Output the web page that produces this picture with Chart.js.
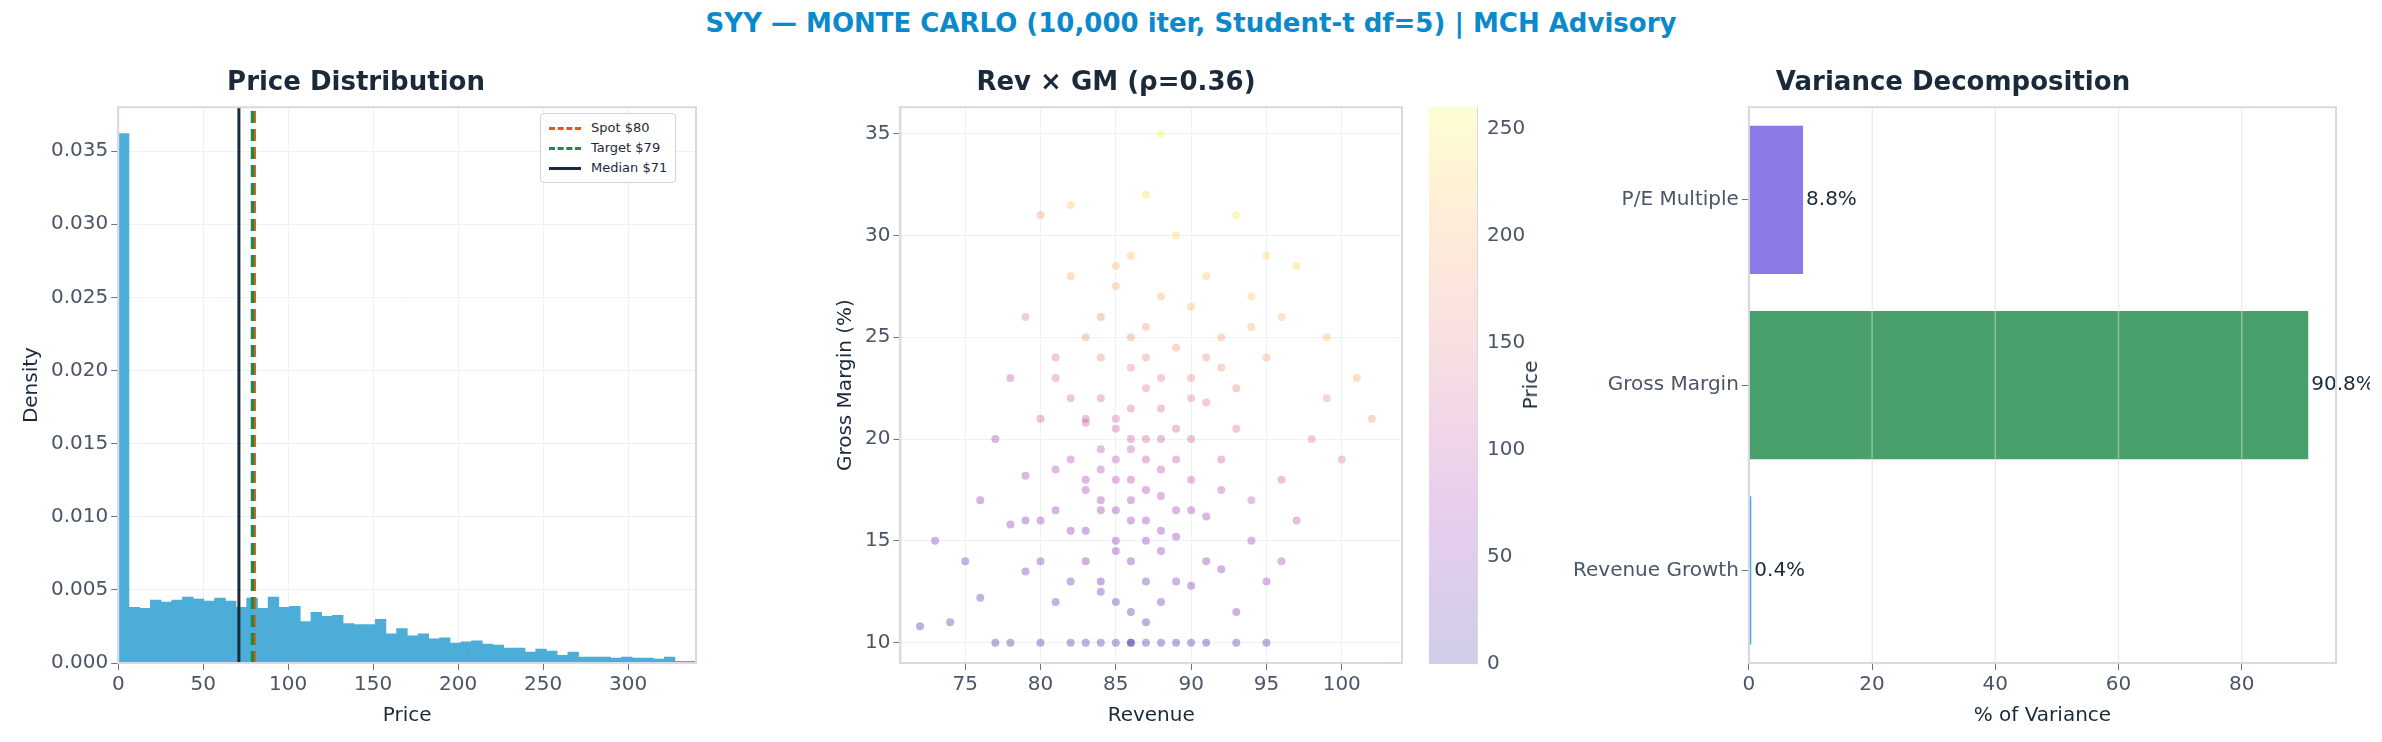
<!DOCTYPE html>
<html><head><meta charset="utf-8">
<script src="https://cdn.jsdelivr.net/npm/chart.js@4.4.1/dist/chart.umd.min.js"></script>
<style>
body{margin:0;background:#fff;width:2382px;height:742px;position:relative;overflow:hidden;font-family:"DejaVu Sans",sans-serif}
.box{position:absolute}
#title{position:absolute;top:8px;left:0;width:2382px;text-align:center;font:bold 26px "DejaVu Sans";color:#0a8acb}
#leg{position:absolute;left:540px;top:113px;border:1px solid #d0d4da;border-radius:4px;background:#fff;padding:4px 8px;font:13px "DejaVu Sans";color:#1b2a3a;line-height:20px}
#leg span{display:inline-block;width:32px;height:0;margin-right:10px;vertical-align:middle}
#cbt{position:absolute;left:1530px;top:385px;transform:translate(-50%,-50%) rotate(-90deg);font:20px "DejaVu Sans";color:#1b2a3a}
</style></head><body>
<div id="title">SYY — MONTE CARLO (10,000 iter, Student-t df=5) | MCH Advisory</div>
<div class="box" style="left:0;top:58px;width:710px;height:674px"><canvas id="c1"></canvas></div>
<div class="box" style="left:830px;top:58px;width:580px;height:674px"><canvas id="c2"></canvas></div>
<div class="box" style="left:1530px;top:58px;width:840px;height:674px"><canvas id="c4"></canvas></div>
<div class="box" style="left:1400px;top:58px;width:125px;height:674px"><canvas id="c3"></canvas></div>
<div id="cbt">Price</div>
<div id="leg"><div><span style="border-top:3px dashed #e8590c"></span>Spot $80</div><div><span style="border-top:3px dashed #1e8a4a"></span>Target $79</div><div><span style="border-top:3px solid #1b2a3a"></span>Median $71</div></div>
<script>
const binWidth = 6.3;
const histDensity = [0.0362,0.00381,0.00374,0.0043,0.00416,0.0043,0.00451,0.00437,0.00423,0.00444,0.00423,0.00381,0.00444,0.00374,0.00451,0.00381,0.00388,0.00284,0.00347,0.00319,0.00326,0.0027,0.00263,0.00263,0.00298,0.002,0.00235,0.00186,0.002,0.00165,0.00172,0.00137,0.00144,0.00151,0.0013,0.00123,0.00102,0.00102,0.00074,0.00095,0.00081,0.00053,0.00074,0.0004,0.0004,0.0004,0.00033,0.0004,0.00033,0.00033,0.00026,0.0004,0.00012,0.00012];
const histTicks = [0,50,100,150,200,250,300];
const densityTicks = [0,0.005,0.01,0.015,0.02,0.025,0.03,0.035];
const spotPrice = 80, targetPrice = 79, medianPrice = 71;
const scatterRev = [86,82,90,78,85,93,88,80,84,87,81,79,90,86,83,76,92,88,85,82,87,89,84,80,91,86,78,94,83,88,85,90,81,87,84,92,79,86,89,83,88,85,91,82,87,93,80,90,86,84,89,92,87,95,83,90,88,85,91,94,86,89,96,82,93,97,99,101,75,74,76,77,78,79,80,81,73,72,96,98,97,95,99,100,102,94,93,96,85,87,84,86,88,83,85,87,84,86,88,85,87,89,90,86,84,88,91,86,82,81,80,82,79,83,81,84,85,87,90,91,89,92,93,92,94,95,88,82,86,89,83,91,87,77,95,84,88,86,84,85,87,83,89,86,88,85,90,87];
const scatterGm = [10,10,10,10,10,10,10,10,12.5,13,12,13.5,12.8,11.5,14,12.2,13.6,14.5,15,15.5,16,15.2,16.5,16,16.2,17,15.8,15,17.5,17.2,18,18,18.5,19,19.5,19,18.2,20,20.5,20.8,21.5,21,21.8,22,22.5,22.5,21,23,23.5,24,24.5,25,25.5,24,25,26.5,27,27.5,28,27,29,30,26,28,31,28.5,25,23,14,11,17,20,23,26,31,24,15,10.8,18,20,16,13,22,19,21,17,11.5,14,12,11,13,14,12,15.5,16.5,17.5,18.5,19.5,18.5,20.5,20,19,20,21.5,22,23,24,25,19,16.5,14,13,16,21,23,26,28.5,32,16.5,14,13,17.5,20.5,23.5,25.5,29,35,31.5,10,10,10,10,10,10,10,10,15.5,16,17,14.5,15,18,16.5,18,20,19,22,24];
const scatterPrice = [0,0,0,0,0,0,0,0,25,30,18,32,35,15,40,14,48,52,55,52,66,62,68,56,75,78,50,70,80,82,88,98,86,102,104,112,78,112,124,116,134,124,142,126,145,158,112,160,158,160,176,188,182,186,168,202,200,196,214,216,212,232,208,192,246,232,210,196,30,10,55,80,110,140,180,140,36,6,118,142,100,70,170,150,172,108,40,82,12,8,24,38,26,48,62,80,92,106,96,118,116,108,122,130,130,148,170,172,92,60,38,24,50,116,134,170,200,240,76,56,40,96,138,168,196,232,258,220,0,0,0,0,0,0,0,0,62,64,72,44,54,82,72,88,114,98,150,164];
const revTicks = [75,80,85,90,95,100];
const gmTicks = [10,15,20,25,30,35];
const priceTicks = [0,50,100,150,200,250];
const varianceLabels = ['P/E Multiple','Gross Margin','Revenue Growth'];
const varianceValues = [8.8,90.8,0.4];
const varianceTicks = [0,20,40,60,80];

const TICK = {color:'#4a5568',font:{size:20,family:'DejaVu Sans'}};
const AXT = (t)=>({display:true,text:t,color:'#1b2a3a',font:{size:20,family:'DejaVu Sans'}});
const GRID = {color:'#eef1f5',tickColor:'#6b7280',tickLength:7,drawTicks:true};
const BORDER = {color:'#d5dbe3',width:2};
const TITLE = (t)=>({display:true,text:t,color:'#1b2a3a',font:{size:26,weight:'bold',family:'DejaVu Sans'},padding:{top:10,bottom:8}});
const fixTicks = arr => (a=>{a.ticks=arr.map(v=>({value:v}));});
Chart.defaults.animation=false;Chart.defaults.responsive=true;Chart.defaults.maintainAspectRatio=false;
Chart.register({id:'frame',afterDraw(ch){if(ch.canvas.id==='c3')return;const a=ch.chartArea,c=ch.ctx;c.save();c.strokeStyle='#d5dbe3';c.lineWidth=2;c.strokeRect(a.left,a.top,a.right-a.left,a.bottom-a.top);c.restore();}});

function plasma(v){
  const stops=[[13,8,135],[84,2,163],[139,10,165],[185,50,137],[219,92,104],[244,136,73],[254,188,43],[240,249,33]];
  v=Math.max(0,Math.min(1,v));const p=v*(stops.length-1);const i=Math.min(stops.length-2,Math.floor(p));const f=p-i;
  return stops[i].map((c,k)=>Math.round(c+(stops[i+1][k]-c)*f));
}
const PMAX=260;

const histPts = histDensity.map((d,i)=>({x:(i+0.5)*binWidth,y:d}));
new Chart(document.getElementById('c1'),{
  data:{datasets:[
    {type:'bar',data:histPts,backgroundColor:'#4badd8',barPercentage:1,categoryPercentage:1,borderWidth:0,order:3},
    {type:'line',data:[{x:spotPrice,y:0},{x:spotPrice,y:0.038}],borderColor:'#e8590c',borderWidth:3.5,borderDash:[12,6],pointRadius:0,order:1},
    {type:'line',data:[{x:targetPrice,y:0},{x:targetPrice,y:0.038}],borderColor:'#1e8a4a',borderWidth:3.5,borderDash:[12,6],pointRadius:0,order:0},
    {type:'line',data:[{x:medianPrice,y:0},{x:medianPrice,y:0.038}],borderColor:'#1b2a3a',borderWidth:3,pointRadius:0,order:2}
  ]},
  options:{layout:{padding:{right:14,left:16}},plugins:{legend:{display:false},title:TITLE('Price Distribution'),tooltip:{enabled:false}},
    scales:{x:{type:'linear',offset:false,min:0,max:340,afterBuildTicks:fixTicks(histTicks),ticks:TICK,grid:{...GRID,offset:false},border:BORDER,title:AXT('Price')},
      y:{min:0,max:0.038,afterBuildTicks:fixTicks(densityTicks),ticks:{...TICK,callback:v=>v.toFixed(3)},grid:GRID,border:BORDER,title:AXT('Density')}}}
});

const sc = scatterRev.map((r,i)=>({x:r,y:scatterGm[i]}));
new Chart(document.getElementById('c2'),{
  type:'scatter',
  data:{datasets:[{data:sc,pointRadius:4,borderWidth:0,
    backgroundColor:ctx=>{const c=plasma(scatterPrice[ctx.dataIndex]/PMAX);return `rgba(${c[0]},${c[1]},${c[2]},0.3)`;}}]},
  options:{layout:{padding:{right:8}},plugins:{legend:{display:false},title:TITLE('Rev × GM (ρ=0.36)'),tooltip:{enabled:false}},
    scales:{x:{min:70.7,max:104,afterBuildTicks:fixTicks(revTicks),ticks:TICK,grid:GRID,border:BORDER,title:AXT('Revenue')},
      y:{min:9,max:36.3,afterBuildTicks:fixTicks(gmTicks),ticks:TICK,grid:GRID,border:BORDER,title:AXT('Gross Margin (%)')}}}
});

new Chart(document.getElementById('c3'),{
  type:'bar',
  data:{labels:[''],datasets:[{data:[PMAX],barPercentage:1,categoryPercentage:1,borderWidth:0,
    backgroundColor:ctx=>{const a=ctx.chart.chartArea;if(!a)return '#ccc';const g=ctx.chart.ctx.createLinearGradient(0,a.bottom,0,a.top);
      for(let i=0;i<=10;i++){const c=plasma(i/10);g.addColorStop(i/10,`rgba(${c[0]},${c[1]},${c[2]},0.2)`);}return g;}}]},
  options:{layout:{padding:{top:49,bottom:68,left:29,right:0}},plugins:{legend:{display:false},tooltip:{enabled:false}},
    scales:{x:{display:false},
      y:{position:'right',min:0,max:PMAX,afterBuildTicks:fixTicks(priceTicks),ticks:TICK,grid:{display:false,tickColor:'#6b7280',tickLength:7},border:{color:'#d5dbe3'}}}}
});

const labelPlugin={id:'vl',afterDatasetsDraw(ch){const c=ch.ctx;const m=ch.getDatasetMeta(0);const a=ch.chartArea;const xs=ch.scales.x;c.save();
  c.strokeStyle='rgba(225,230,236,0.45)';c.lineWidth=1.5;
  varianceTicks.slice(1).forEach(v=>{const px=xs.getPixelForValue(v);c.beginPath();c.moveTo(px,a.top);c.lineTo(px,a.bottom);c.stroke();});
  c.font='20px DejaVu Sans';c.fillStyle='#1b2a3a';c.textBaseline='middle';
  m.data.forEach((b,i)=>c.fillText(varianceValues[i].toFixed(1)+'%',b.x+3,b.y));c.restore();}};
new Chart(document.getElementById('c4'),{
  type:'bar',plugins:[labelPlugin],
  data:{labels:varianceLabels,datasets:[{data:varianceValues,backgroundColor:['#8b7be8','#48a06c','#4badd8'],barPercentage:0.8,categoryPercentage:1,borderWidth:0}]},
  options:{indexAxis:'y',layout:{padding:{right:34,left:40}},plugins:{legend:{display:false},title:TITLE('Variance Decomposition'),tooltip:{enabled:false}},
    scales:{x:{min:0,max:95.3,afterBuildTicks:fixTicks(varianceTicks),ticks:TICK,grid:GRID,border:BORDER,title:AXT('% of Variance')},
      y:{ticks:TICK,grid:{...GRID,offset:false,drawOnChartArea:false},border:BORDER}}}
});
</script></body></html>
